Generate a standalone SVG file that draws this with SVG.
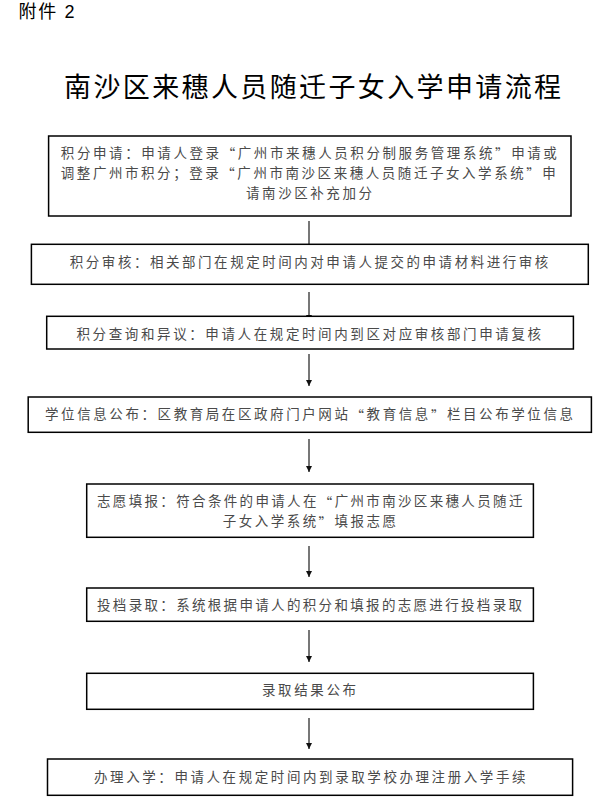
<svg xmlns="http://www.w3.org/2000/svg" width="613" height="811" viewBox="0 0 613 811">
<style>
.box{fill:#fff;stroke:#000;stroke-width:1.5}
.t{font-family:"Liberation Sans","Noto Sans CJK SC",sans-serif;font-size:13.5px;fill:#4a4a4a;dominant-baseline:central}
.q{font-family:"Noto Sans CJK SC",sans-serif}
.title{font-family:"Liberation Sans","Noto Sans CJK SC",sans-serif;font-size:27px;fill:#000;dominant-baseline:central}
.hdr{font-family:"Liberation Sans","Noto Sans CJK SC",sans-serif;font-size:18px;fill:#000;dominant-baseline:central}
.c{fill:none;stroke:#555;stroke-width:1.6;marker-end:url(#ah)}
</style>
<defs>
<marker id="ah" markerUnits="userSpaceOnUse" markerWidth="7" markerHeight="7" refX="6" refY="3" orient="auto">
<path d="M0,0 L6,3 L0,6 z" fill="#111"/>
</marker>
</defs>
<rect width="613" height="811" fill="#fff"/>
<text class="hdr" x="18.5" y="12" textLength="56" lengthAdjust="spacing">附件 2</text>
<text class="title" x="64" y="88" textLength="497" lengthAdjust="spacing">南沙区来穗人员随迁子女入学申请流程</text>

<g id="connectors">
<line class="c" x1="309" y1="221" x2="309" y2="250"/>
<line class="c" x1="309" y1="292" x2="309" y2="321"/>
<line class="c" x1="309" y1="354" x2="309" y2="386"/>
<line class="c" x1="309" y1="439" x2="309" y2="472"/>
<line class="c" x1="309" y1="546" x2="309" y2="577"/>
<line class="c" x1="309" y1="630" x2="309" y2="662"/>
<line class="c" x1="309" y1="718" x2="309" y2="749"/>
</g>

<g id="n1">
<rect class="box" x="48.6" y="136" width="522.4" height="80"/>
<text class="t" x="60.8" y="153" textLength="496" lengthAdjust="spacing">积分申请：申请人登录<tspan class="q">“</tspan>广州市来穗人员积分制服务管理系统<tspan class="q">”</tspan>申请或</text>
<text class="t" x="60.8" y="173" textLength="495" lengthAdjust="spacing">调整广州市积分；登录<tspan class="q">“</tspan>广州市南沙区来穗人员随迁子女入学系统<tspan class="q">”</tspan>申</text>
<text class="t" x="246" y="193" textLength="126" lengthAdjust="spacing">请南沙区补充加分</text>
</g>
<g id="n2">
<rect class="box" x="31.4" y="244.3" width="556.9" height="40"/>
<text class="t" x="69.8" y="262.5" textLength="478.5" lengthAdjust="spacing">积分审核：相关部门在规定时间内对申请人提交的申请材料进行审核</text>
</g>
<g id="n3">
<rect class="box" x="46.7" y="316.3" width="526.7" height="32.7"/>
<text class="t" x="76.5" y="334.3" textLength="464.5" lengthAdjust="spacing">积分查询和异议：申请人在规定时间内到区对应审核部门申请复核</text>
</g>
<g id="n4">
<rect class="box" x="28.2" y="397" width="563.2" height="35.3"/>
<text class="t" x="45" y="414.5" textLength="528" lengthAdjust="spacing">学位信息公布：区教育局在区政府门户网站<tspan class="q">“</tspan>教育信息<tspan class="q">”</tspan>栏目公布学位信息</text>
</g>
<g id="n5">
<rect class="box" x="86.7" y="484" width="446.7" height="53.3"/>
<text class="t" x="97" y="501.7" textLength="425.4" lengthAdjust="spacing">志愿填报：符合条件的申请人在<tspan class="q">“</tspan>广州市南沙区来穗人员随迁</text>
<text class="t" x="222.8" y="521.7" textLength="173.2" lengthAdjust="spacing">子女入学系统<tspan class="q">”</tspan>填报志愿</text>
</g>
<g id="n6">
<rect class="box" x="86.7" y="588" width="446.7" height="33.3"/>
<text class="t" x="97" y="605" textLength="425" lengthAdjust="spacing">投档录取：系统根据申请人的积分和填报的志愿进行投档录取</text>
</g>
<g id="n7">
<rect class="box" x="86.7" y="673.3" width="446.7" height="36"/>
<text class="t" x="262" y="690.5" textLength="94" lengthAdjust="spacing">录取结果公布</text>
</g>
<g id="n8">
<rect class="box" x="47.5" y="759" width="525.1" height="36.3"/>
<text class="t" x="94" y="777.5" textLength="431.5" lengthAdjust="spacing">办理入学：申请人在规定时间内到录取学校办理注册入学手续</text>
</g>
</svg>
